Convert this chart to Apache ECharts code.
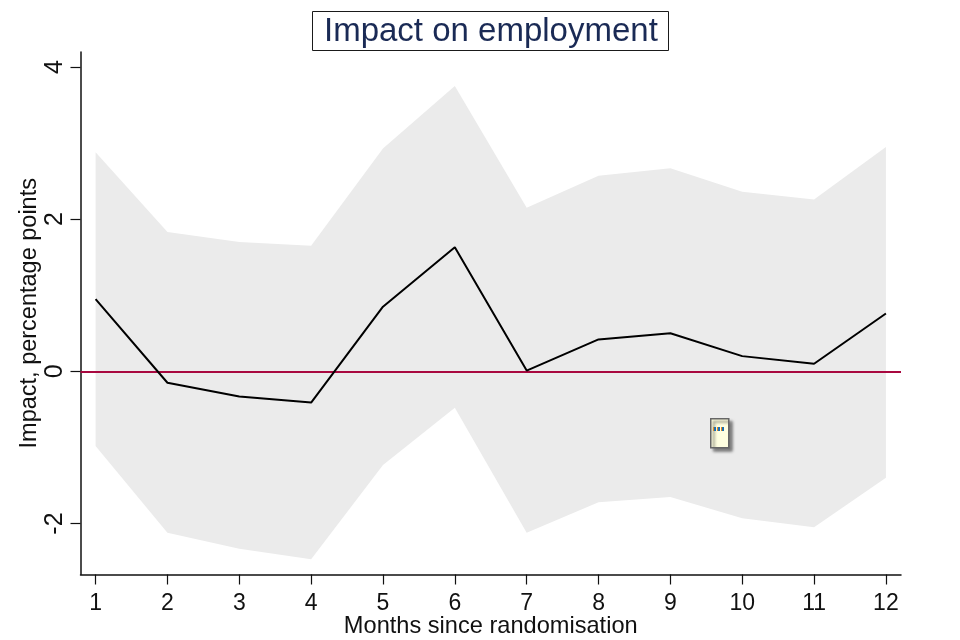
<!DOCTYPE html>
<html><head><meta charset="utf-8">
<style>html,body{margin:0;padding:0;background:#fff}#c{width:960px;height:640px}</style>
<script src="https://cdn.jsdelivr.net/npm/echarts@6/dist/echarts.min.js"></script>
</head><body><div id="c"></div>
<script>
const months=[1,2,3,4,5,6,7,8,9,10,11,12];
const impact=[0.95,-0.15,-0.33,-0.41,0.85,1.63,0.01,0.42,0.50,0.20,0.10,0.76];
const upper=[2.88,1.83,1.70,1.65,2.93,3.75,2.15,2.57,2.67,2.36,2.26,2.95];
const lower=[-0.98,-2.12,-2.33,-2.47,-1.23,-0.48,-2.12,-1.72,-1.65,-1.93,-2.05,-1.40];
const yTicks=[-2,0,2,4];
const FONT='"Liberation Sans",Arial,sans-serif';
const chart=echarts.init(document.getElementById('c'),null,{renderer:'canvas'});
chart.setOption({
  animation:false,
  backgroundColor:'#fff',
  title:{text:'Impact on employment',left:312,top:11,padding:[4,11,3,12],borderColor:'#1a1a1a',borderWidth:1,
    textStyle:{fontFamily:FONT,fontSize:33,fontWeight:'normal',color:'#1a2a55',lineHeight:33}},
  grid:{left:80.5,right:59,top:52,bottom:65.5,containLabel:false,outerBoundsMode:'none'},
  xAxis:{type:'value',min:0.79,max:12.21,
    name:'Months since randomisation',nameLocation:'middle',nameGap:40,nameMoveOverlap:false,
    nameTextStyle:{fontFamily:FONT,fontSize:23.6,color:'#111'},
    axisLine:{onZero:false,lineStyle:{color:'#111',width:1.5}},
    axisTick:{length:10,customValues:months,lineStyle:{color:'#111',width:1.2}},
    axisLabel:{customValues:months,margin:18,fontFamily:FONT,fontSize:23,color:'#111',showMinLabel:true,showMaxLabel:true},
    splitLine:{show:false}},
  yAxis:{type:'value',min:-2.67,max:4.197,
    name:'Impact, percentage points',nameLocation:'middle',nameGap:39,nameMoveOverlap:false,
    nameTextStyle:{fontFamily:FONT,fontSize:23.5,color:'#111'},
    axisLine:{onZero:false,lineStyle:{color:'#111',width:1.5}},
    axisTick:{length:10,customValues:yTicks,lineStyle:{color:'#111',width:1.2}},
    axisLabel:{customValues:yTicks,rotate:90,margin:13,fontFamily:FONT,fontSize:25,color:'#111',align:'center',verticalAlign:'bottom'},
    splitLine:{show:false}},
  series:[
    {type:'custom',silent:true,z:1,coordinateSystem:'cartesian2d',
     data:months.map((m,i)=>[m,upper[i],lower[i]]),
     encode:{x:0,y:[1,2]},
     renderItem(params,api){
       if(params.dataIndex!==0)return null;
       const pts=[];
       months.forEach((m,i)=>pts.push(api.coord([m,upper[i]])));
       for(let i=months.length-1;i>=0;i--)pts.push(api.coord([months[i],lower[i]]));
       return {type:'polygon',shape:{points:pts},style:{fill:'#ebebeb'}};
     }},
    {type:'line',z:3,data:months.map((m,i)=>[m,impact[i]]),symbol:'none',
     lineStyle:{color:'#000',width:2},
     markLine:{silent:true,symbol:'none',label:{show:false},z:2,
       lineStyle:{color:'#a8083f',width:2,type:'solid'},data:[{yAxis:0}]}}
  ],
  graphic:[
    {type:'rect',left:710,top:418,z:10,shape:{width:18,height:29},
     style:{fill:'#ffffe0',stroke:'#666',lineWidth:1.5,shadowColor:'rgba(0,0,0,0.5)',shadowBlur:3,shadowOffsetX:3,shadowOffsetY:3}},
    {type:'rect',left:713,top:427,z:11,shape:{width:1,height:4},style:{fill:'#e58a1f'}},
    {type:'rect',left:714,top:427,z:11,shape:{width:2,height:4},style:{fill:'#1c6fb0'}},
    {type:'rect',left:717,top:427,z:11,shape:{width:1,height:4},style:{fill:'#e58a1f'}},
    {type:'rect',left:718,top:427,z:11,shape:{width:2,height:4},style:{fill:'#1c6fb0'}},
    {type:'rect',left:721,top:427,z:11,shape:{width:1,height:4},style:{fill:'#e58a1f'}},
    {type:'rect',left:722,top:427,z:11,shape:{width:2,height:4},style:{fill:'#1c6fb0'}}
  ]
});
</script></body></html>
